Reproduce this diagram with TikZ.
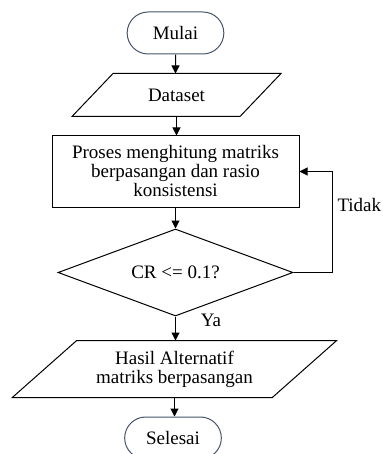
\documentclass[tikz,border=0pt]{standalone}
\usepackage{fontspec}
\setmainfont{Liberation Serif}
\usepackage{tikz}
\usetikzlibrary{shapes.geometric, shapes.misc, arrows.meta}
\definecolor{garisTerminal}{HTML}{44546A}

\begin{document}
\begin{tikzpicture}[x=0.5pt, y=-0.5pt, font=\fontsize{9.5}{9.5}\selectfont, line width=0.5pt,
    terminal/.style={draw=garisTerminal, rounded rectangle, minimum width=55pt, minimum height=21pt},
    dataio/.style={rectangle, align=center, inner sep=0pt},
    proses/.style={draw, rectangle, align=center, minimum width=123.5pt, minimum height=35.5pt, inner sep=0pt},
    keputusan/.style={draw, diamond, aspect=2.7, minimum width=117.5pt, minimum height=43.5pt, inner sep=0pt},
    panah/.style={-{Triangle[length=4pt,width=4pt]}}]
        \useasboundingbox (0,0) rectangle (382,454);

        \node[terminal] (mulai) at (175.5,33) {Mulai};
        \node[dataio, minimum width=83.5pt, minimum height=21pt] (dataset) at (176.5,95) {Dataset};
        \node[proses] (proses) at (175.5,171.5) {Proses menghitung matriks\\berpasangan dan rasio\\konsistensi};
        \node[keputusan] (cek) at (175.5,272.5) {CR <= 0.1?};
        \node[dataio, minimum width=129.5pt, minimum height=28pt] (hasil) at (174.5,369) {Hasil Alternatif\\matriks berpasangan};
        \node[terminal] (selesai) at (173,438) {Selesai};

        % jajaran genjang input/output
        \draw ([xshift=10.25pt]dataset.north west) -- ([xshift=10.25pt]dataset.north east)
           -- ([xshift=-10.25pt]dataset.south east) -- ([xshift=-10.25pt]dataset.south west) -- cycle;
        \draw ([xshift=16.1pt]hasil.north west) -- ([xshift=16.1pt]hasil.north east)
           -- ([xshift=-16.1pt]hasil.south east) -- ([xshift=-16.1pt]hasil.south west) -- cycle;

        \coordinate (balik) at (332,0);

        \draw[panah] (mulai) -- (mulai |- dataset.north);
        \draw[panah] (dataset) -- (dataset |- proses.north);
        \draw[panah] (proses) -- (cek);
        \draw[panah] (cek) -- (cek |- hasil.north);
        \draw[panah] (hasil) -- (hasil |- selesai.north);
        \draw[panah] (cek.east) -| (balik |- proses.east) -- (proses.east);

        \node[anchor=west, inner sep=0pt] (tidak) at (337,205) {Tidak};
        \node (ya) at (211,320) {Ya};
    \end{tikzpicture}
\end{document}
